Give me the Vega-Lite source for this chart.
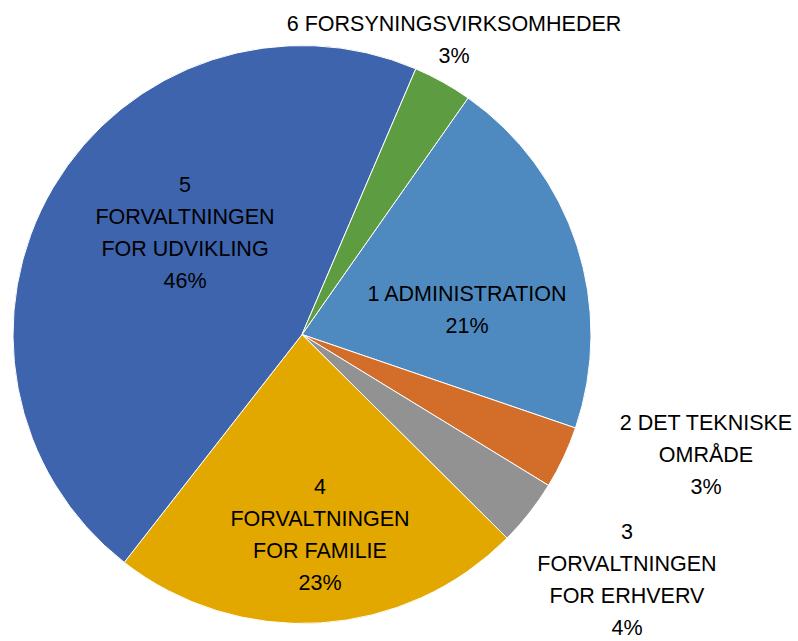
{
  "$schema": "https://vega.github.io/schema/vega-lite/v6.json",
  "width": 578,
  "height": 579,
  "autosize": "none",
  "padding": {"left": 13, "top": 45, "right": 207, "bottom": 17},
  "background": "white",
  "config": {"view": {"stroke": null}},
  "data": {
    "values": [
      {"nr": 1, "kategori": "1 ADMINISTRATION", "andel": 20.5, "label": "1 ADMINISTRATION\n21%"},
      {"nr": 2, "kategori": "2 DET TEKNISKE OMRÅDE", "andel": 3.5, "label": "2 DET TEKNISKE\nOMRÅDE\n3%"},
      {"nr": 3, "kategori": "3 FORVALTNINGEN FOR ERHVERV", "andel": 3.7, "label": "3\nFORVALTNINGEN\nFOR ERHVERV\n4%"},
      {"nr": 4, "kategori": "4 FORVALTNINGEN FOR FAMILIE", "andel": 23.1, "label": "4\nFORVALTNINGEN\nFOR FAMILIE\n23%"},
      {"nr": 5, "kategori": "5 FORVALTNINGEN FOR UDVIKLING", "andel": 45.9, "label": "5\nFORVALTNINGEN\nFOR UDVIKLING\n46%"},
      {"nr": 6, "kategori": "6 FORSYNINGSVIRKSOMHEDER", "andel": 3.3, "label": "6 FORSYNINGSVIRKSOMHEDER\n3%"}
    ]
  },
  "encoding": {
    "theta": {"field": "andel", "type": "quantitative", "stack": true, "scale": {"range": [0.6121, 6.8953]}},
    "order": {"field": "nr", "type": "quantitative", "sort": "ascending"}
  },
  "layer": [
    {
      "mark": {"type": "arc", "outerRadius": 289, "stroke": "white", "strokeWidth": 1},
      "encoding": {
        "color": {
          "field": "kategori", "type": "nominal", "legend": null,
          "scale": {
            "domain": ["1 ADMINISTRATION", "2 DET TEKNISKE OMRÅDE", "3 FORVALTNINGEN FOR ERHVERV", "4 FORVALTNINGEN FOR FAMILIE", "5 FORVALTNINGEN FOR UDVIKLING", "6 FORSYNINGSVIRKSOMHEDER"],
            "range": ["#4E8ABF", "#D36D2A", "#929292", "#E2A800", "#3D64AD", "#5E9C41"]
          }
        }
      }
    },
    {
      "mark": {"type": "text", "radius": 164.2, "dx": 8.9, "dy": 11.3, "font": "Liberation Sans", "fontSize": 21.5, "lineBreak": "\n", "lineHeight": 32, "align": "center", "baseline": "middle", "fill": "black"},
      "encoding": {"text": {"condition": {"test": "datum.nr == 1", "field": "label"}, "value": ""}}
    },
    {
      "mark": {"type": "text", "radius": 417.3, "dx": 26.3, "dy": -88, "font": "Liberation Sans", "fontSize": 21.5, "lineBreak": "\n", "lineHeight": 32, "align": "center", "baseline": "middle", "fill": "black"},
      "encoding": {"text": {"condition": {"test": "datum.nr == 2", "field": "label"}, "value": ""}}
    },
    {
      "mark": {"type": "text", "radius": 407.9, "dx": 4.1, "dy": -53.3, "font": "Liberation Sans", "fontSize": 21.5, "lineBreak": "\n", "lineHeight": 32, "align": "center", "baseline": "middle", "fill": "black"},
      "encoding": {"text": {"condition": {"test": "datum.nr == 3", "field": "label"}, "value": ""}}
    },
    {
      "mark": {"type": "text", "radius": 202.7, "dx": 5.2, "dy": -48.3, "font": "Liberation Sans", "fontSize": 21.5, "lineBreak": "\n", "lineHeight": 32, "align": "center", "baseline": "middle", "fill": "black"},
      "encoding": {"text": {"condition": {"test": "datum.nr == 4", "field": "label"}, "value": ""}}
    },
    {
      "mark": {"type": "text", "radius": 151.8, "dx": 13.7, "dy": -71.3, "font": "Liberation Sans", "fontSize": 21.5, "lineBreak": "\n", "lineHeight": 32, "align": "center", "baseline": "middle", "fill": "black"},
      "encoding": {"text": {"condition": {"test": "datum.nr == 5", "field": "label"}, "value": ""}}
    },
    {
      "mark": {"type": "text", "radius": 330.4, "dx": -8.8, "dy": -20.9, "font": "Liberation Sans", "fontSize": 21.5, "lineBreak": "\n", "lineHeight": 32, "align": "center", "baseline": "middle", "fill": "black"},
      "encoding": {"text": {"condition": {"test": "datum.nr == 6", "field": "label"}, "value": ""}}
    }
  ]
}
